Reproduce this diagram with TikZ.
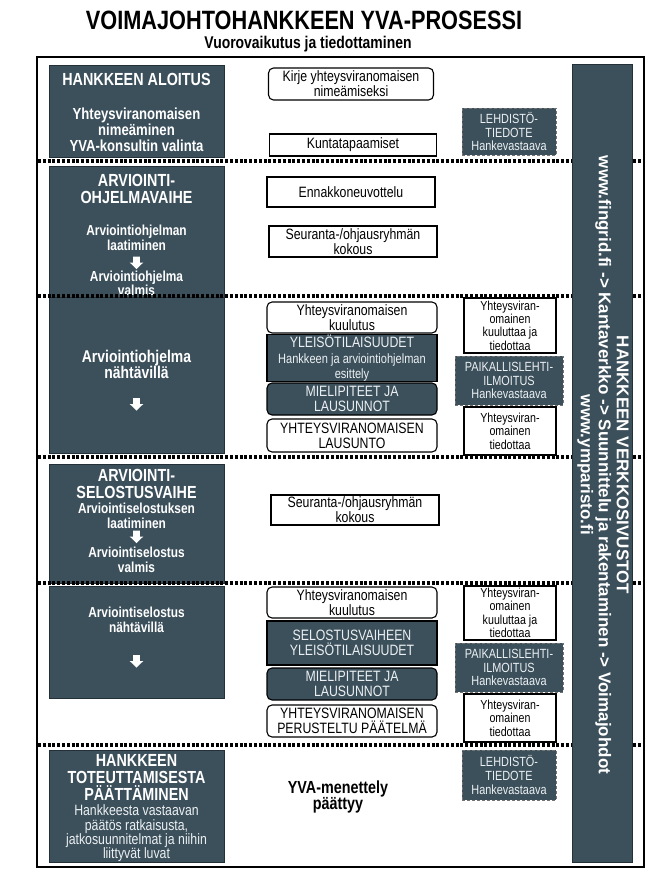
\documentclass[tikz,border=0pt]{standalone}
\usepackage{fontspec}
\setmainfont{Liberation Sans}[FakeStretch=0.82]
\newfontfamily\widefont{Liberation Sans}
\definecolor{dk}{RGB}{60,80,92}
\definecolor{lt}{RGB}{236,240,242}
\begin{document}
\begin{tikzpicture}[x=1pt,y=-1pt,
  lbox/.style={fill=dk, draw=dk!60!black, line width=0.5pt, inner sep=0pt},
  ltit/.style={text=white, font=\bfseries\fontsize{17.5}{17}\selectfont, align=center, inner sep=0pt},
  lsub/.style={text=white, font=\bfseries\fontsize{14.5}{14.5}\selectfont, align=center, inner sep=0pt},
  wbox/.style={fill=white, draw=black, line width=1.1pt, inner sep=0pt, align=center, font=\fontsize{15}{15}\selectfont},
  wround/.style={wbox, rounded corners=5pt},
  dbox/.style={fill=dk, draw=black, line width=1.1pt, text=lt, inner sep=0pt, align=center, font=\fontsize{15}{15}\selectfont},
  dround/.style={dbox, rounded corners=5pt},
  press/.style={fill=dk, draw=black!55, densely dashed, line width=0.8pt, text=lt, inner sep=0pt, align=center, font=\fontsize{13.3}{13.8}\selectfont},
  rbox/.style={fill=white, draw=black, line width=1.1pt, inner sep=0pt, align=center, font=\fontsize{13}{13.4}\selectfont},
  sep/.style={line width=3.5pt, dash pattern=on 3pt off 1.8pt},
  downarrow/.pic={\fill[white] (-3.3,-6) -- (3.3,-6) -- (3.3,0) -- (6.8,0) -- (0,6.5) -- (-6.8,0) -- (-3.3,0) -- cycle;}
]
\useasboundingbox (0,0) rectangle (660,881);

% titles
\node[font=\bfseries\fontsize{26.5}{26.5}\selectfont, inner sep=0pt] (title) at (304,20) {VOIMAJOHTOHANKKEEN YVA-PROSESSI};
\node[font=\bfseries\fontsize{17}{17}\selectfont, inner sep=0pt] (subtitle) at (308,44.5) {Vuorovaikutus ja tiedottaminen};

% frame
\node[draw=black, line width=2pt, minimum width=607, minimum height=810, inner sep=0pt] (frame) at (340.5,462) {};

% left column
\node[lbox, minimum width=175, minimum height=92] (L1) at (136.5,111) {};
\node[ltit] (L1t) at (136.5,79) {HANKKEEN ALOITUS};
\node[lsub, font=\bfseries\fontsize{16}{16}\selectfont] (L1s) at (136.5,130) {Yhteysviranomaisen\\nimeäminen\\YVA-konsultin valinta};

\node[lbox, minimum width=175, minimum height=131] (L2) at (136.5,231.5) {};
\node[ltit] (L2t) at (136.5,188.5) {ARVIOINTI-\\OHJELMAVAIHE};
\node[lsub] (L2a) at (136.5,238) {Arviointiohjelman\\laatiminen};
\pic at (136.5,262.5) {downarrow};
\node[lsub] (L2b) at (136.5,283.5) {Arviointiohjelma\\valmis};

\node[lbox, minimum width=175, minimum height=156] (L3) at (136.5,375) {};
\node[lsub, font=\bfseries\fontsize{17}{16.5}\selectfont] (L3t) at (136.5,364.5) {Arviointiohjelma\\nähtävillä};
\pic at (136.5,404) {downarrow};

\node[lbox, minimum width=175, minimum height=119] (L4) at (136.5,523.5) {};
\node[ltit] (L4t) at (136.5,483.5) {ARVIOINTI-\\SELOSTUSVAIHE};
\node[lsub] (L4a) at (136.5,516) {Arviointiselostuksen\\laatiminen};
\pic at (136.5,536.5) {downarrow};
\node[lsub] (L4b) at (136.5,560) {Arviointiselostus\\valmis};

\node[lbox, minimum width=175, minimum height=112] (L5) at (136.5,642) {};
\node[lsub, font=\bfseries\fontsize{14.5}{15}\selectfont] (L5t) at (136.5,619.5) {Arviointiselostus\\nähtävillä};
\pic at (136.5,661) {downarrow};

\node[lbox, minimum width=175, minimum height=112] (L6) at (136.5,806) {};
\node[ltit] (L6t) at (136.5,777) {HANKKEEN\\TOTEUTTAMISESTA\\PÄÄTTÄMINEN};
\node[text=lt, align=center, inner sep=0pt, font=\fontsize{15}{14.3}\selectfont] (L6s) at (136.5,833.5) {Hankkeesta vastaavan\\päätös ratkaisusta,\\jatkosuunnitelmat ja niihin\\liittyvät luvat};

% middle column
\node[wround, minimum width=165, minimum height=32] (M1) at (351,84) {Kirje yhteysviranomaisen\\nimeämiseksi};
\node[wbox, minimum width=167, minimum height=22] (M2) at (353,145) {Kuntatapaamiset};
\node[wbox, minimum width=168, minimum height=30] (M3) at (351,192) {Ennakkoneuvottelu};
\node[wbox, minimum width=168, minimum height=31] (M4) at (353,241.5) {Seuranta-/ohjausryhmän\\kokous};
\node[wround, minimum width=170, minimum height=31] (M5) at (352,317.5) {Yhteysviranomaisen\\kuulutus};
\node[dbox, minimum width=170, minimum height=42] (M6) at (352,358) {YLEISÖTILAISUUDET\\[1pt]{\fontsize{13.5}{13}\selectfont Hankkeen ja arviointiohjelman}\\{\fontsize{13.5}{13}\selectfont esittely}};
\node[dround, minimum width=170, minimum height=32] (M7) at (352,399) {MIELIPITEET JA\\LAUSUNNOT};
\node[wround, minimum width=170, minimum height=33] (M8) at (352,435.5) {YHTEYSVIRANOMAISEN\\LAUSUNTO};
\node[wbox, minimum width=168, minimum height=30] (M9) at (355,510) {Seuranta-/ohjausryhmän\\kokous};
\node[wround, minimum width=170, minimum height=31] (M10) at (352,602.5) {Yhteysviranomaisen\\kuulutus};
\node[dbox, minimum width=170, minimum height=44] (M11) at (352,643) {SELOSTUSVAIHEEN\\YLEISÖTILAISUUDET};
\node[dround, minimum width=170, minimum height=32] (M12) at (352,684) {MIELIPITEET JA\\LAUSUNNOT};
\node[wround, minimum width=170, minimum height=32] (M13) at (352,721) {YHTEYSVIRANOMAISEN\\PERUSTELTU PÄÄTELMÄ};
\node[font=\bfseries\fontsize{17.5}{16.5}\selectfont, align=center, inner sep=0pt] (M14) at (338,797) {YVA-menettely\\päättyy};

% right column
\node[press, minimum width=94, minimum height=47] (R1) at (509,131.5) {LEHDISTÖ-\\TIEDOTE\\Hankevastaava};
\node[rbox, minimum width=92, minimum height=55] (R2) at (510,325.5) {Yhteysviran-\\omainen\\kuuluttaa ja\\tiedottaa};
\node[press, minimum width=108, minimum height=49] (R3) at (509,380.5) {PAIKALLISLEHTI-\\ILMOITUS\\Hankevastaava};
\node[rbox, minimum width=92, minimum height=48] (R4) at (510,431) {Yhteysviran-\\omainen\\tiedottaa};
\node[rbox, minimum width=92, minimum height=54] (R5) at (510,613) {Yhteysviran-\\omainen\\kuuluttaa ja\\tiedottaa};
\node[press, minimum width=108, minimum height=49] (R6) at (509,667.5) {PAIKALLISLEHTI-\\ILMOITUS\\Hankevastaava};
\node[rbox, minimum width=92, minimum height=48] (R7) at (510,718) {Yhteysviran-\\omainen\\tiedottaa};
\node[press, minimum width=94, minimum height=50] (R8) at (509,775) {LEHDISTÖ-\\TIEDOTE\\Hankevastaava};

% right bar
\node[fill=dk, draw=dk!60!black, line width=0.6pt, minimum width=60, minimum height=798, inner sep=0pt] (bar) at (602,463) {};
\node[rotate=-90, text=white, align=center, inner sep=0pt, font=\widefont\bfseries\fontsize{17}{18}\selectfont] (bartext) at (603,465) {HANKKEEN VERKKOSIVUSTOT\\www.fingrid.fi -> Kantaverkko -> Suunnittelu ja rakentaminen -> Voimajohdot\\www.ymparisto.fi};

% separators
\foreach \yy [count=\i] in {161,296,457,583,745}{
  \coordinate (sa\i) at (38,\yy);
  \coordinate (sb\i) at (572,\yy);
  \coordinate (sc\i) at (633,\yy);
  \coordinate (sd\i) at (643,\yy);
  \draw[sep] (sa\i) -- (sb\i);
  \draw[sep] (sc\i) -- (sd\i);
}
\end{tikzpicture}
\end{document}
